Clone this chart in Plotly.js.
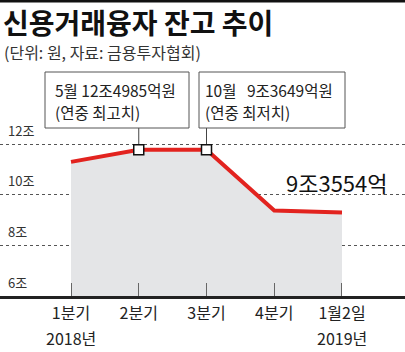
<!DOCTYPE html>
<html>
<head>
<meta charset="utf-8">
<script src="https://cdn.plot.ly/plotly-3.0.1.min.js"></script>
<style>html,body{margin:0;padding:0;background:#fff;}#chart{width:405px;height:352px;}</style>
</head>
<body>
<div id="chart"></div>
<script>
// ---- data ----
const categories = [0, 1, 2, 3, 4];
const tickLabels = ['1분기', '2분기', '3분기', '4분기', '1월2일'];
const yearLabels = ['2018년', '', '', '', '2019년'];
const balances = [11.3, 11.78, 11.78, 9.38, 9.3];   // 조원 (chart-drawn positions)
const markerIdx = [1, 2];                              // highlighted points
const yTicks = [6, 8, 10, 12];
const yTickLabels = ['6조', '8조', '10조', '12조'];
const titleText = '신용거래융자 잔고 추이';
const subtitleText = '(단위: 원, 자료: 금용투자협회)';
const boxHigh = ['5월 12조4985억원', '(연중 최고치)'];
const boxLow = ['10월\u00a0\u00a0\u00a09조3649억원', '(연중 최저치)'];
const lastLabel = '9조3554억';

const FONT = '"Noto Sans CJK KR", "Noto Sans", sans-serif';

const traces = [
  {
    x: categories, y: balances, type: 'scatter', mode: 'lines',
    fill: 'tozeroy', fillcolor: '#e4e5e7',
    line: {color: '#e2231f', width: 4},
    hoverinfo: 'skip'
  },
  {
    x: markerIdx.map(i => categories[i]), y: markerIdx.map(i => balances[i]),
    type: 'scatter', mode: 'markers',
    marker: {symbol: 'square', size: 10, color: '#fff', line: {color: '#111', width: 1.5}},
    hoverinfo: 'skip'
  }
];

// plot area spans pixel rows 100..296
const T = 100, B = 296, UNIT = 167 / 6.6;
const pxY = py => (B - py) / (B - T);
const yTop = 6 + (B - T) / UNIT;
const boxBottomVal = 6 + (B - 128) / UNIT;

const boxes = [
  {lines: boxHigh, x0: 45, x1: 189, tx: 53},
  {lines: boxLow, x0: 199, x1: 345, tx: 203}
];

const shapes = [
  {type: 'line', xref: 'paper', yref: 'paper', x0: 0, x1: 1, y0: pxY(1), y1: pxY(1),
   line: {color: '#111', width: 3}},
  {type: 'line', xref: 'x', yref: 'y', x0: categories[1], x1: categories[1], y0: balances[1], y1: boxBottomVal,
   line: {color: '#444', width: 1}, layer: 'below'},
  {type: 'line', xref: 'x', yref: 'y', x0: categories[2], x1: categories[2], y0: balances[2], y1: boxBottomVal,
   line: {color: '#444', width: 1}, layer: 'below'}
];
const annotations = [
  {text: subtitleText, xref: 'paper', yref: 'paper', x: 0, xanchor: 'left', xshift: 2,
   y: pxY(52), yanchor: 'middle', showarrow: false,
   font: {family: FONT, size: 16, color: '#333'}},
  {text: lastLabel, xref: 'paper', yref: 'paper', x: 390 / 405, xanchor: 'right',
   y: pxY(182), yanchor: 'middle', showarrow: false,
   font: {family: FONT, size: 22, color: '#111'}}
];
boxes.forEach(b => {
  shapes.push({type: 'rect', xref: 'paper', yref: 'paper',
    x0: b.x0 / 405, x1: b.x1 / 405, y0: pxY(128), y1: pxY(72),
    fillcolor: '#fff', line: {color: '#555', width: 1}, layer: 'above'});
  b.lines.forEach((t, i) => {
    annotations.push({text: t, xref: 'paper', yref: 'paper', x: b.tx / 405, xanchor: 'left',
      y: pxY(89.5 + 22 * i), yanchor: 'middle', showarrow: false,
      font: {family: FONT, size: 15.5, color: '#222'}});
  });
});
yearLabels.forEach((t, i) => {
  if (!t) return;
  annotations.push({text: t, xref: 'x', yref: 'paper', x: categories[i], xanchor: 'center',
    y: pxY(338), yanchor: 'middle', showarrow: false,
    font: {family: FONT, size: 16, color: '#222'}});
});

const layout = {
  width: 405, height: 352,
  margin: {l: 0, r: 0, t: T, b: 352 - B},
  paper_bgcolor: '#fff', plot_bgcolor: '#fff',
  showlegend: false,
  font: {family: FONT, color: '#222'},
  title: {
    text: titleText, xref: 'container', yref: 'container',
    x: 3 / 405, xanchor: 'left', y: 1 - 24 / 352, yanchor: 'middle',
    font: {family: FONT, size: 28, weight: 700, color: '#111'}
  },
  xaxis: {
    range: [-1.048, 4.93], tickvals: categories, ticktext: tickLabels,
    ticks: 'inside', ticklen: 13, tickcolor: '#666', tickwidth: 1,
    showline: true, linecolor: '#222', linewidth: 3,
    showgrid: false, zeroline: false, fixedrange: true,
    ticklabelstandoff: 1,
    tickfont: {family: FONT, size: 16, color: '#222'}
  },
  yaxis: {
    range: [6, yTop], tickvals: yTicks, ticktext: yTickLabels,
    showgrid: true, gridcolor: '#555', gridwidth: 1, griddash: 'dot',
    zeroline: false, showline: false, ticks: '',
    ticklabelposition: 'inside', ticklabelshift: -13, ticklabelstandoff: 5,
    tickfont: {family: FONT, size: 13, color: '#333'}, fixedrange: true
  },
  shapes: shapes,
  annotations: annotations
};

Plotly.newPlot('chart', traces, layout, {staticPlot: true, displayModeBar: false});
</script>
</body>
</html>
